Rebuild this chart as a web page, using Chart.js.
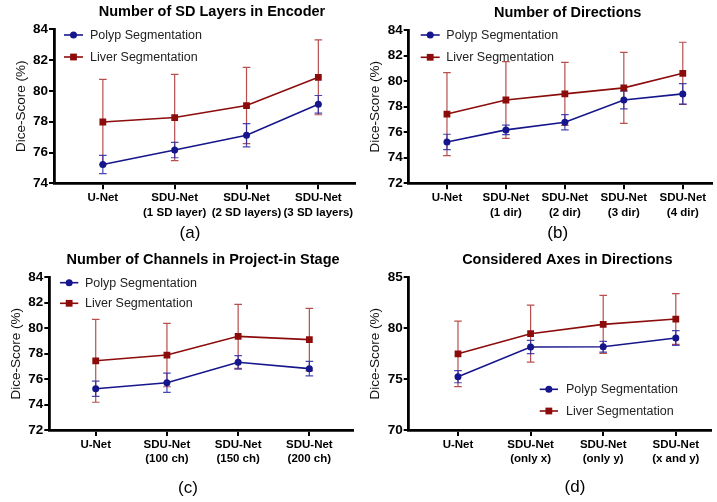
<!DOCTYPE html>
<html><head><meta charset="utf-8">
<script src="https://cdn.jsdelivr.net/npm/chart.js@4/dist/chart.umd.min.js"></script>
<style>
html,body{margin:0;padding:0;background:#fff;}
#wrap{position:relative;width:717px;height:502px;overflow:hidden;background:#fff;}
.panel{position:absolute;}
canvas{display:block;}
</style></head><body>
<div id="wrap">
  <div class="panel" style="left:0;top:0;"><canvas id="ca" width="360" height="250"></canvas></div>
  <div class="panel" style="left:358px;top:0;"><canvas id="cb" width="359" height="250"></canvas></div>
  <div class="panel" style="left:0;top:250px;"><canvas id="cc" width="360" height="252"></canvas></div>
  <div class="panel" style="left:358px;top:250px;"><canvas id="cd" width="359" height="252"></canvas></div>
</div>
<script>
// ---------- data ----------
const seriesNames = ['Polyp Segmentation', 'Liver Segmentation'];
const yAxisTitle = 'Dice-Score (%)';
const panelTitles = ['Number of SD Layers in Encoder', 'Number of Directions', 'Number of Channels in Project-in Stage', 'Considered Axes in Directions'];
const panelLabels = ['(a)', '(b)', '(c)', '(d)'];

const catsA = [['U-Net'], ['SDU-Net', '(1 SD layer)'], ['SDU-Net', '(2 SD layers)'], ['SDU-Net', '(3 SD layers)']];
const polypA = [75.22, 76.16, 77.12, 79.13];
const polypErrA = [0.59, 0.5, 0.75, 0.57];
const liverA = [77.98, 78.27, 79.05, 80.88];
const liverErrA = [2.77, 2.8, 2.48, 2.43];
const yTicksA = [74, 84, 2];

const catsB = [['U-Net'], ['SDU-Net', '(1 dir)'], ['SDU-Net', '(2 dir)'], ['SDU-Net', '(3 dir)'], ['SDU-Net', '(4 dir)']];
const polypB = [75.24, 76.18, 76.78, 78.52, 79.0];
const polypErrB = [0.6, 0.37, 0.6, 0.7, 0.8];
const liverB = [77.42, 78.52, 79.0, 79.47, 80.61];
const liverErrB = [3.25, 3.0, 2.47, 2.78, 2.43];
const yTicksB = [72, 84, 2];

const catsC = [['U-Net'], ['SDU-Net', '(100 ch)'], ['SDU-Net', '(150 ch)'], ['SDU-Net', '(200 ch)']];
const polypC = [75.24, 75.71, 77.32, 76.82];
const polypErrC = [0.6, 0.76, 0.53, 0.57];
const liverC = [77.44, 77.89, 79.36, 79.1];
const liverErrC = [3.26, 2.49, 2.52, 2.46];
const yTicksC = [72, 84, 2];

const catsD = [['U-Net'], ['SDU-Net', '(only x)'], ['SDU-Net', '(only y)'], ['SDU-Net', '(x and y)']];
const polypD = [75.24, 78.15, 78.18, 79.04];
const polypErrD = [0.6, 0.65, 0.53, 0.72];
const liverD = [77.48, 79.46, 80.38, 80.9];
const liverErrD = [3.22, 2.8, 2.85, 2.49];
const yTicksD = [70, 85, 5];

// ---------- styling ----------
const FONT = '"Liberation Sans", Arial, Helvetica, sans-serif';
Chart.defaults.font.family = FONT;
const POLYP = '#16168c';
const LIVER = '#8c0c0c';
const POLYP_ERR = 'rgba(40,40,165,0.85)';
const LIVER_ERR = 'rgba(165,35,35,0.8)';

// error bars drawn through the y scale
const errorBarPlugin = {
  id: 'errorBars',
  beforeDatasetsDraw(chart) {
    const ctx = chart.ctx, ys = chart.scales.y;
    for (let d = chart.data.datasets.length - 1; d >= 0; d--) {
      const ds = chart.data.datasets[d];
      const meta = chart.getDatasetMeta(d);
      ctx.save();
      ctx.strokeStyle = ds.errColor;
      ctx.lineWidth = 1.2;
      meta.data.forEach((pt, i) => {
        const v = ds.data[i].y, e = ds.errs[i];
        const yt = ys.getPixelForValue(v + e), yb = ys.getPixelForValue(v - e);
        ctx.beginPath();
        ctx.moveTo(pt.x, yt); ctx.lineTo(pt.x, yb);
        ctx.moveTo(pt.x - 3.8, yt); ctx.lineTo(pt.x + 3.8, yt);
        ctx.moveTo(pt.x - 3.8, yb); ctx.lineTo(pt.x + 3.8, yb);
        ctx.stroke();
      });
      ctx.restore();
    }
  }
};

// legend with line + marker, title and panel label
const panelTextPlugin = {
  id: 'panelText',
  afterDraw(chart, args, o) {
    const ctx = chart.ctx;
    ctx.save();
    chart.data.datasets.forEach((ds, i) => {
      const y = o.legY[i];
      ctx.strokeStyle = ds.borderColor; ctx.lineWidth = 1.6;
      ctx.beginPath(); ctx.moveTo(o.legX0, y); ctx.lineTo(o.legX1, y); ctx.stroke();
      const cx = (o.legX0 + o.legX1) / 2;
      ctx.fillStyle = ds.pointBackgroundColor;
      ctx.beginPath();
      if (ds.pointStyle === 'rect') { const s = ds.pointRadius * Math.SQRT1_2; ctx.rect(cx - s, y - s, 2 * s, 2 * s); }
      else { ctx.arc(cx, y, ds.pointRadius, 0, Math.PI * 2); }
      ctx.fill();
      ctx.fillStyle = '#222';
      ctx.font = '12.5px ' + FONT;
      ctx.textAlign = 'left'; ctx.textBaseline = 'middle';
      ctx.fillText(ds.label, o.legTextX, y + 0.5);
    });
    ctx.fillStyle = '#000';
    ctx.textAlign = 'center'; ctx.textBaseline = 'middle';
    ctx.font = 'bold 14.5px ' + FONT;
    ctx.fillText(o.title, o.titleX, o.titleY);
    ctx.font = '17px ' + FONT;
    ctx.fillText(o.label, o.labelX, o.labelY);
    ctx.restore();
  }
};

function makeChart(id, g, cats, polyp, polypErr, liver, liverErr, yTicks, title, label) {
  const toPts = arr => arr.map((v, i) => ({ x: i, y: v }));
  return new Chart(document.getElementById(id), {
    type: 'line',
    data: {
      datasets: [
        { label: seriesNames[0], data: toPts(polyp), errs: polypErr, errColor: POLYP_ERR,
          borderColor: POLYP, backgroundColor: POLYP, pointBackgroundColor: POLYP, pointBorderColor: POLYP,
          borderWidth: 1.6, pointStyle: 'circle', pointRadius: 3.5, pointBorderWidth: 0, tension: 0 },
        { label: seriesNames[1], data: toPts(liver), errs: liverErr, errColor: LIVER_ERR,
          borderColor: LIVER, backgroundColor: LIVER, pointBackgroundColor: LIVER, pointBorderColor: LIVER,
          borderWidth: 1.6, pointStyle: 'rect', pointRadius: 4.8, pointBorderWidth: 0, tension: 0 }
      ]
    },
    options: {
      responsive: false, animation: false, devicePixelRatio: 1,
      layout: { padding: { left: 0, top: g.T, right: g.R, bottom: 0 } },
      plugins: {
        legend: { display: false }, tooltip: { enabled: false },
        panelText: Object.assign({ title: title, label: label }, g.text)
      },
      scales: {
        x: {
          type: 'linear', min: g.xMin, max: g.xMax,
          afterBuildTicks: s => { s.ticks = cats.map((c, i) => ({ value: i })); },
          afterFit: s => { s.height = g.xH; },
          grid: { drawOnChartArea: false, drawTicks: true, tickLength: 6, color: '#000', lineWidth: 2 },
          border: { display: true, color: '#000', width: 2.8 },
          ticks: { callback: v => cats[v], padding: 1.5, color: '#000', maxRotation: 0, autoSkip: false,
                   font: { size: 11.5, weight: 'bold', lineHeight: 1.25 } }
        },
        y: {
          min: yTicks[0], max: yTicks[1],
          afterFit: s => { s.width = g.L; },
          grid: { drawOnChartArea: false, drawTicks: true, tickLength: 5, color: '#000', lineWidth: 2 },
          border: { display: true, color: '#000', width: 2.8 },
          ticks: { stepSize: yTicks[2], padding: 1, color: '#000', font: { size: 13.5, weight: 'bold' } },
          title: { display: true, text: yAxisTitle, color: '#111', font: { size: 13.5 },
                   padding: { top: g.L - 33 - 8.1, bottom: 0 } }
        }
      }
    },
    plugins: [errorBarPlugin, panelTextPlugin]
  });
}

makeChart('ca', { L: 54, T: 29.3, R: 2, xH: 66.7, xMin: -0.68, xMax: 3.513,
  text: { legX0: 64, legX1: 83, legTextX: 90, legY: [35, 57], titleX: 212, titleY: 12, labelX: 190, labelY: 233 } },
  catsA, polypA, polypErrA, liverA, liverErrA, yTicksA, panelTitles[0], panelLabels[0]);
makeChart('cb', { L: 50.7, T: 30, R: 2, xH: 66.7, xMin: -0.649, xMax: 4.499,
  text: { legX0: 62.7, legX1: 81.7, legTextX: 88.3, legY: [35, 57.3], titleX: 209.7, titleY: 12.7, labelX: 199.7, labelY: 233 } },
  catsB, polypB, polypErrB, liverB, liverErrB, yTicksB, panelTitles[1], panelLabels[1]);
makeChart('cc', { L: 49.3, T: 27.3, R: 7, xH: 72, xMin: -0.652, xMax: 3.613,
  text: { legX0: 60, legX1: 78.3, legTextX: 85, legY: [32.7, 53.3], titleX: 203, titleY: 10, labelX: 188, labelY: 238.7 } },
  catsC, polypC, polypErrC, liverC, liverErrC, yTicksC, panelTitles[2], panelLabels[2]);
makeChart('cd', { L: 50.7, T: 27.3, R: 5.7, xH: 72, xMin: -0.679, xMax: 3.489,
  text: { legX0: 181.7, legX1: 200, legTextX: 208, legY: [139.3, 161], titleX: 209.3, titleY: 10, labelX: 217, labelY: 237 } },
  catsD, polypD, polypErrD, liverD, liverErrD, yTicksD, panelTitles[3], panelLabels[3]);
</script>
</body></html>
